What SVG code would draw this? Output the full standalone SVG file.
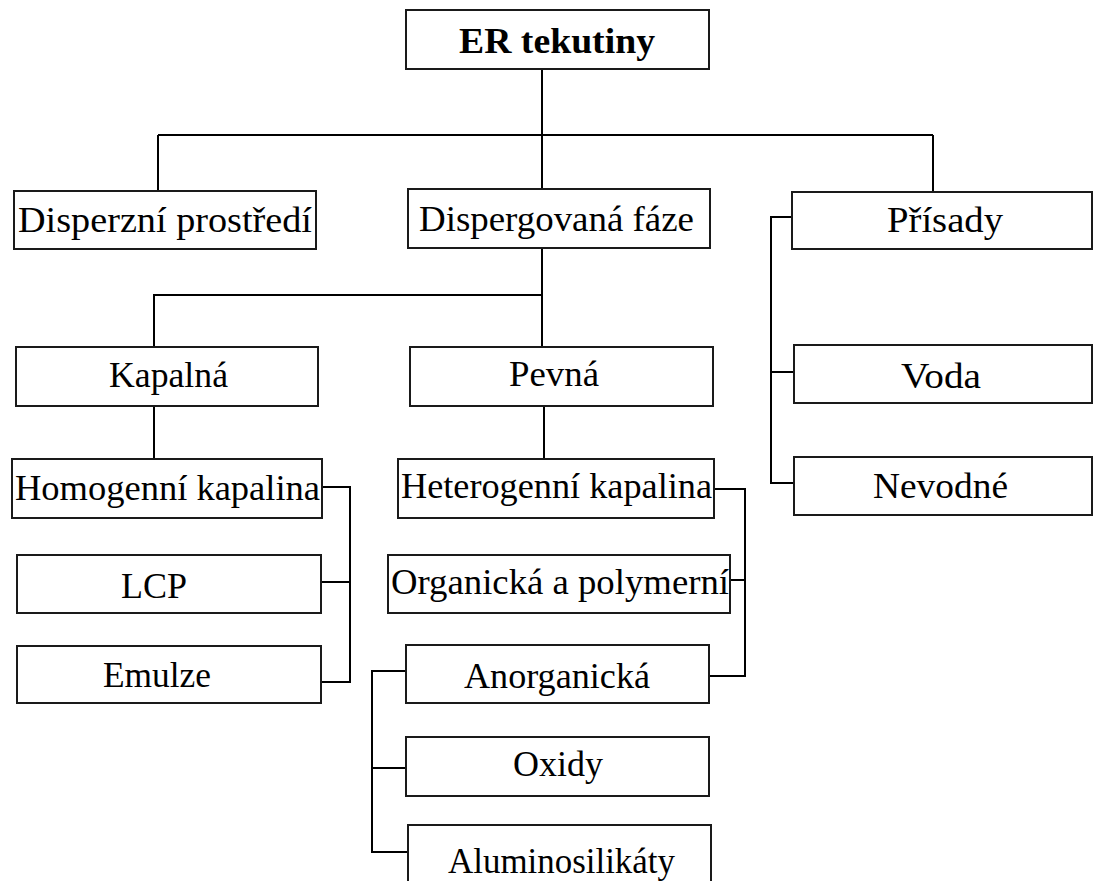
<svg xmlns="http://www.w3.org/2000/svg" width="1094" height="881" viewBox="0 0 1094 881">
<style>
.box{fill:#fff;stroke:#1a1a1a;stroke-width:2}
text{font-family:'Liberation Serif','DejaVu Serif',serif;font-size:36px;fill:#000}
.b{font-weight:bold}
.c{fill:none;stroke:#000;stroke-width:2}
</style>
<rect width="1094" height="881" fill="#fff"/>
<g id="connectors">
<path class="c" d="M542 69V135M158 135H933M158 135V191M542 135V189M933 135V192"/>
<path class="c" d="M542 248V295H154V347M542 295V347"/>
<path class="c" d="M154 406V459M544 406V459"/>
<path class="c" d="M322 487H350V682H321M321 582H350"/>
<path class="c" d="M714 489H745V676H709M730 580H745"/>
<path class="c" d="M406 671H372V852H408M372 768H406"/>
<path class="c" d="M792 217H771V483H794M771 372H794"/>
</g>
<g id="n-er"><rect class="box" x="406" y="10" width="303" height="59"/><text class="b" x="459" y="53" textLength="196" lengthAdjust="spacingAndGlyphs" font-family="Liberation Serif, serif">ER tekutiny</text></g>
<g id="n-disperzni"><rect class="box" x="14" y="191" width="302" height="58"/><text x="18" y="232" textLength="294" lengthAdjust="spacingAndGlyphs" font-family="Liberation Serif, serif">Disperzní prostředí</text></g>
<g id="n-dispergovana"><rect class="box" x="408" y="189" width="302" height="59"/><text x="419" y="231" textLength="275" lengthAdjust="spacingAndGlyphs" font-family="Liberation Serif, serif">Dispergovaná fáze</text></g>
<g id="n-prisady"><rect class="box" x="792" y="192" width="300" height="57"/><text x="887" y="232" textLength="116" lengthAdjust="spacingAndGlyphs" font-family="Liberation Serif, serif">Přísady</text></g>
<g id="n-kapalna"><rect class="box" x="16" y="347" width="302" height="59"/><text x="109" y="387" textLength="119" lengthAdjust="spacingAndGlyphs" font-family="Liberation Serif, serif">Kapalná</text></g>
<g id="n-pevna"><rect class="box" x="410" y="347" width="303" height="59"/><text x="509" y="386" textLength="90" lengthAdjust="spacingAndGlyphs" font-family="Liberation Serif, serif">Pevná</text></g>
<g id="n-voda"><rect class="box" x="794" y="345" width="298" height="58"/><text x="901" y="388" textLength="80" lengthAdjust="spacingAndGlyphs" font-family="Liberation Serif, serif">Voda</text></g>
<g id="n-nevodne"><rect class="box" x="794" y="457" width="298" height="58"/><text x="873" y="498" textLength="135" lengthAdjust="spacingAndGlyphs" font-family="Liberation Serif, serif">Nevodné</text></g>
<g id="n-homogenni"><rect class="box" x="12" y="459" width="310" height="59"/><text x="15" y="500" textLength="305" lengthAdjust="spacingAndGlyphs" font-family="Liberation Serif, serif">Homogenní kapalina</text></g>
<g id="n-heterogenni"><rect class="box" x="398" y="459" width="316" height="59"/><text x="401" y="498" textLength="311" lengthAdjust="spacingAndGlyphs" font-family="Liberation Serif, serif">Heterogenní kapalina</text></g>
<g id="n-lcp"><rect class="box" x="17" y="555" width="304" height="58"/><text x="121" y="598" textLength="66" lengthAdjust="spacingAndGlyphs" font-family="Liberation Serif, serif">LCP</text></g>
<g id="n-organicka"><rect class="box" x="388" y="555" width="342" height="58"/><text x="391" y="594" textLength="338" lengthAdjust="spacingAndGlyphs" font-family="Liberation Serif, serif">Organická a polymerní</text></g>
<g id="n-emulze"><rect class="box" x="17" y="646" width="304" height="57"/><text x="103" y="687" textLength="108" lengthAdjust="spacingAndGlyphs" font-family="Liberation Serif, serif">Emulze</text></g>
<g id="n-anorganicka"><rect class="box" x="406" y="645" width="303" height="58"/><text x="464" y="688" textLength="186" lengthAdjust="spacingAndGlyphs" font-family="Liberation Serif, serif">Anorganická</text></g>
<g id="n-oxidy"><rect class="box" x="406" y="737" width="303" height="59"/><text x="513" y="776" textLength="90" lengthAdjust="spacingAndGlyphs" font-family="Liberation Serif, serif">Oxidy</text></g>
<g id="n-alumino"><rect class="box" x="408" y="825" width="303" height="70"/><text x="448" y="873" textLength="227" lengthAdjust="spacingAndGlyphs" font-family="Liberation Serif, serif">Aluminosilikáty</text></g>
</svg>
